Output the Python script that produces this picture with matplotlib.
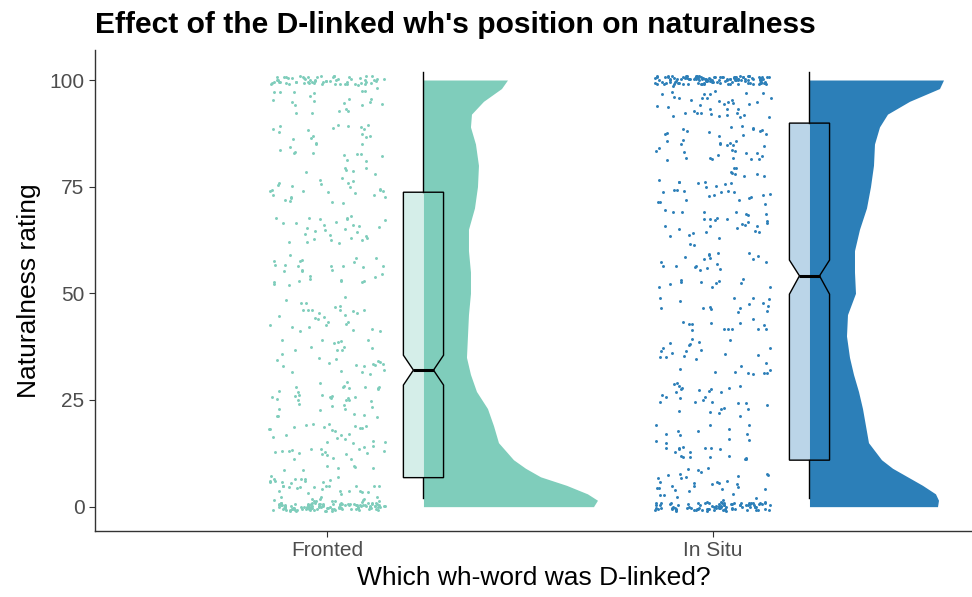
import numpy as np
import matplotlib
matplotlib.use('Agg')
import matplotlib.pyplot as plt

plt.rcParams['font.family'] = ['Liberation Sans', 'DejaVu Sans']

groups = ['Fronted', 'In Situ']
colors = ['#7fcdbb', '#2c7fb8']

# box plot stats (whiskers, quartiles, median, notch)
box_whislo = [2.0, 2.0]
box_q1 = [6.8, 10.9]
box_med = [32.0, 54.1]
box_q3 = [73.7, 89.9]
box_whishi = [101.9, 101.9]
box_cilo = [28.5, 49.8]
box_cihi = [35.5, 57.8]

# half-violin density (relative width) at rating levels
dens_y = [0, 1.5, 3, 5, 7, 9, 11, 15, 19, 23, 27, 31, 35, 40, 45, 50,
          55, 60, 65, 70, 75, 80, 85, 89, 92, 95, 98, 100]
fronted_dens = [170, 174, 164, 143, 117, 102, 90, 75, 70, 64, 53, 47, 43, 44, 45, 47,
                47, 45, 45, 51, 54, 55, 52, 47, 48, 60, 78, 84]
insitu_dens = [128, 129, 126, 113, 98, 83, 72, 59, 56, 53, 49, 44, 40, 37, 38, 46,
               45, 45, 50, 57, 61, 64, 65, 70, 78, 100, 130, 134]

# raw ratings: number of responses at 0, at 100, and in each 10-point band between
band_lo = [0, 10, 20, 30, 40, 50, 60, 70, 80, 90]
fronted_band_n = [55, 42, 38, 30, 30, 30, 30, 32, 30, 25]
insitu_band_n = [35, 30, 30, 28, 28, 30, 32, 35, 40, 40]
fronted_n0, fronted_n100 = 110, 60
insitu_n0, insitu_n100 = 90, 120

fig, ax = plt.subplots(figsize=(9.72, 5.97), dpi=100)
fig.subplots_adjust(left=0.0977, right=1.0, bottom=0.1106, top=0.916)

# quadratic Weyl sequences spread the jitter (no random numbers)
qx = np.sqrt(2)
qy = np.sqrt(3)

def jittered(n0, n100, band_n, start):
    ys, xs = [], []
    k = start
    groups_lo = [(0 - 1.0, 2.0, n0), (100 - 1.0, 2.0, n100)]
    groups_lo += [(lo + 1, 8.5, n) for lo, n in zip(band_lo, band_n)]
    for lo, span, n in groups_lo:
        for i in range(n):
            ys.append(lo + ((k * k * qy) % 1) * span)
            xs.append(((k * k * qx + k * 0.37) % 1) - 0.5)
            k += 1
    return np.array(xs), np.array(ys)

all_dens = [fronted_dens, insitu_dens]
all_pts = [jittered(fronted_n0, fronted_n100, fronted_band_n, 1),
           jittered(insitu_n0, insitu_n100, insitu_band_n, 811)]

for i, (col, (jx, pts), dens) in enumerate(zip(colors, all_pts, all_dens)):
    pos = i + 1
    ax.scatter(pos + jx * 0.30, pts, s=4.5, color=col, linewidths=0, zorder=2)
    d = np.array(dens) / 386.0
    ax.fill_betweenx(dens_y, pos + 0.25, pos + 0.25 + d, color=col, linewidth=0, zorder=3)

stats = []
for i in range(2):
    stats.append(dict(med=box_med[i], q1=box_q1[i], q3=box_q3[i],
                      whislo=box_whislo[i], whishi=box_whishi[i],
                      cilo=box_cilo[i], cihi=box_cihi[i], fliers=[]))
bp = ax.bxp(stats, positions=[1.25, 2.25], widths=0.104, shownotches=True,
            patch_artist=True, showcaps=False, showfliers=False,
            boxprops=dict(linewidth=1, edgecolor='black'),
            whiskerprops=dict(linewidth=1, color='black'),
            medianprops=dict(linewidth=2.2, color='black'),
            manage_ticks=False, zorder=4)
for patch, col in zip(bp['boxes'], colors):
    patch.set_facecolor(matplotlib.colors.to_rgba(col, 0.32))

ax.set_xlim(0.399, 2.671)
ax.set_ylim(-5.7, 107)
ax.set_xticks([1, 2])
ax.set_xticklabels(groups)
ax.set_yticks([0, 25, 50, 75, 100])
ax.tick_params(labelsize=15, labelcolor='#4d4d4d', length=4, color='#333333')
for s in ['top', 'right']:
    ax.spines[s].set_visible(False)
for s in ['left', 'bottom']:
    ax.spines[s].set_color('#333333')
    ax.spines[s].set_linewidth(1)

ax.set_xlabel('Which wh-word was D-linked?', fontsize=19, labelpad=4)
ax.set_ylabel('Naturalness rating', fontsize=19, labelpad=6)
ax.set_title("Effect of the D-linked wh's position on naturalness", fontsize=21.6,
             fontweight='bold', loc='left', pad=12)

plt.savefig('out.png')
